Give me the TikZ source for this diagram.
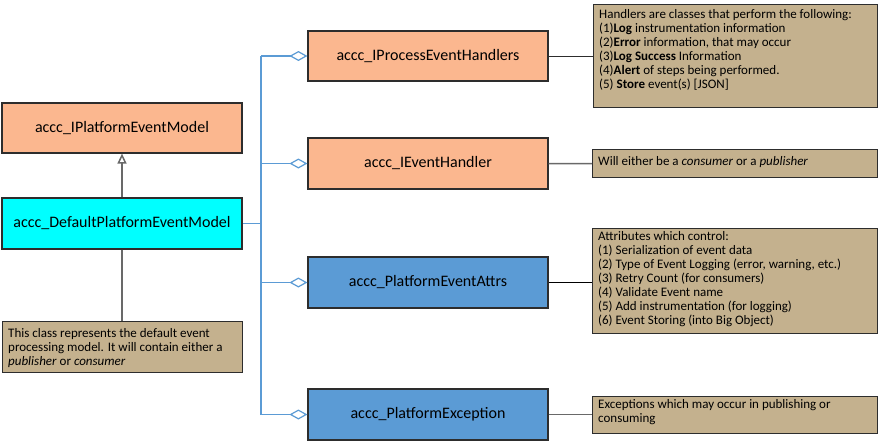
\documentclass[tikz,border=0pt]{standalone}
\usepackage{fontspec}
\setmainfont{Carlito}
\usetikzlibrary{arrows.meta}
\definecolor{peach}{RGB}{251,183,143}
\definecolor{cyanbox}{RGB}{0,255,255}
\definecolor{bluebox}{RGB}{91,155,213}
\definecolor{tan}{RGB}{196,177,142}
\definecolor{lnk}{RGB}{91,155,213}
\definecolor{gline}{RGB}{105,105,105}
\definecolor{bord}{RGB}{45,45,45}
\tikzset{
  cls/.style={draw=bord, line width=1.2pt, minimum width=240pt, minimum height=50pt, inner sep=0pt, font=\fontsize{16}{19}\selectfont},
  notebox/.style={draw=bord, line width=1.2pt, fill=tan, inner sep=0pt},
  notetext/.style={anchor=north west, inner sep=0pt, align=left, font=\fontsize{13}{14}\selectfont},
  agg/.style={draw=lnk, line width=1.2pt, {Diamond[open,fill=white,length=18pt,width=10pt]}-},
  gl/.style={draw=gline, line width=1.5pt},
}
\begin{document}
\begin{tikzpicture}[x=1pt,y=-1pt]
\useasboundingbox[fill=white] (0,0) rectangle (881,442);
% classes
\node[cls, fill=peach] (ipem) at (122,128) {accc\_IPlatformEventModel};
\node[cls, fill=cyanbox, minimum height=51pt] (dpem) at (122,223.5) {accc\_DefaultPlatformEventModel};
\node[cls, fill=peach] (proc) at (428,56) {accc\_IProcessEventHandlers};
\node[cls, fill=peach, minimum height=51pt] (evh) at (428,163.5) {accc\_IEventHandler};
\node[cls, fill=bluebox, minimum height=51pt] (attrs) at (428,282.5) {accc\_PlatformEventAttrs};
\node[cls, fill=bluebox, minimum height=51pt] (exc) at (428,414.5) {accc\_PlatformException};
% notes
\node[notebox, minimum width=284pt, minimum height=103pt, anchor=north west] (n1) at (593,4) {};
\node[notetext] (n1t) at (599,9) {Handlers are classes that perform the following:\\
(1)\textbf{Log} instrumentation information\\
(2)\textbf{Error} information, that may occur\\
(3)\textbf{Log Success} Information\\
(4)\textbf{Alert} of steps being performed.\\
(5) \textbf{Store} event(s) [JSON]};
\node[notebox, minimum width=285pt, minimum height=28pt, anchor=north west] (n2) at (592,149) {};
\node[notetext] (n2t) at (598,156) {Will either be a \textit{consumer} or a \textit{publisher}};
\node[notebox, minimum width=285pt, minimum height=105pt, anchor=north west] (n3) at (592,228) {};
\node[notetext] (n3t) at (598,231.5) {Attributes which control:\\
(1) Serialization of event data\\
(2) Type of Event Logging (error, warning, etc.)\\
(3) Retry Count (for consumers)\\
(4) Validate Event name\\
(5) Add instrumentation (for logging)\\
(6) Event Storing (into Big Object)};
\node[notebox, minimum width=285pt, minimum height=37pt, anchor=north west] (n4) at (592,396) {};
\node[notetext] (n4t) at (598,399.5) {Exceptions which may occur in publishing or\\consuming};
\node[notebox, minimum width=240pt, minimum height=51pt, anchor=north west] (nl) at (2,321) {};
\node[notetext] (nlt) at (8,328.5) {This class represents the default event\\processing model. It will contain either a\\\textit{publisher} or \textit{consumer}};
% inheritance
\draw[gl, -{Triangle[open,fill=white,length=10pt,width=9pt]}] (dpem.north) -- (ipem.south);
\draw[gl] (dpem.south) -- (nl.north -| dpem.south);
% aggregation
\coordinate (bus) at (261,223.5);
\draw[draw=lnk, line width=1.2pt] (dpem.east) -- (bus);
\draw[draw=lnk, line width=1.2pt] (bus |- proc.west) -- (bus |- exc.west);
\draw[agg] (proc.west) -- (bus |- proc.west);
\draw[agg] (evh.west) -- (bus |- evh.west);
\draw[agg] (attrs.west) -- (bus |- attrs.west);
\draw[agg] (exc.west) -- (bus |- exc.west);
% note links
\draw[draw=bord, line width=0.8pt] (proc.east) -- (n1.west |- proc.east);
\draw[gl] (evh.east) -- (n2.west);
\draw[draw=black, line width=0.8pt] (attrs.east) -- (n3.west |- attrs.east);
\draw[gl] (exc.east) -- (n4.west |- exc.east);
\end{tikzpicture}
\end{document}
